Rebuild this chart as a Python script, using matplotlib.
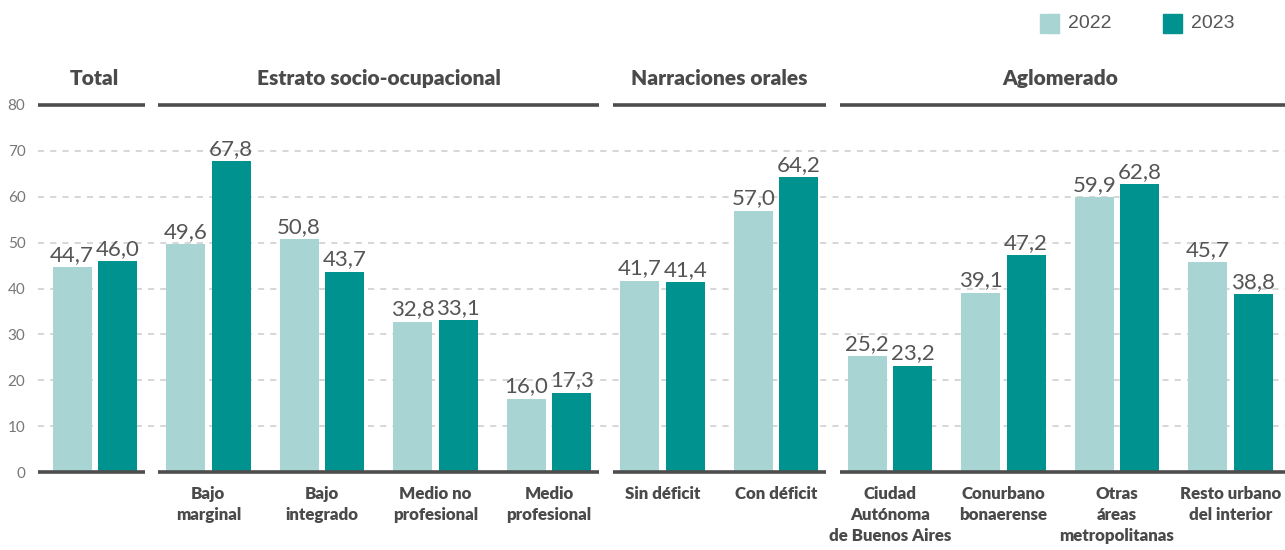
import matplotlib
matplotlib.use("Agg")
import matplotlib.pyplot as plt
from matplotlib.patches import Rectangle
import numpy as np

categories = ["", "Bajo\nmarginal", "Bajo\nintegrado", "Medio no\nprofesional", "Medio\nprofesional",
              "Sin déficit", "Con déficit", "Ciudad\nAutónoma\nde Buenos Aires", "Conurbano\nbonaerense",
              "Otras\náreas\nmetropolitanas", "Resto urbano\ndel interior"]
v2022 = [44.7, 49.6, 50.8, 32.8, 16.0, 41.7, 57.0, 25.2, 39.1, 59.9, 45.7]
v2023 = [46.0, 67.8, 43.7, 33.1, 17.3, 41.4, 64.2, 23.2, 47.2, 62.8, 38.8]
groups = ["Total", "Estrato socio-ocupacional", "Narraciones orales", "Aglomerado"]
group_ranges = [(0, 0), (1, 4), (5, 6), (7, 10)]
series = ["2022", "2023"]
yticks = [0, 10, 20, 30, 40, 50, 60, 70, 80]

C22 = "#a8d4d4"
C23 = "#00928f"
TXT = "#4a4a4a"
GRAY = "#777777"

W, H = 1285, 550
fig = plt.figure(figsize=(W / 100, H / 100), dpi=100)
ax = fig.add_axes([38 / W, (H - 472) / H, (W - 38) / W, (472 - 105) / H])
xlim = (-0.5, 10.48)
ax.set_xlim(*xlim)
ax.set_ylim(0, 80)

x = np.arange(len(categories))
bw = 0.343
off = 0.2
ax.bar(x - off, v2022, bw, color=C22, zorder=2)
ax.bar(x + off, v2023, bw, color=C23, zorder=2)

def fmt(v):
    return f"{v:.1f}".replace(".", ",")

for xi, a, b in zip(x, v2022, v2023):
    ax.text(xi - off, a + 0.5, fmt(a), ha="center", va="bottom", fontsize=16,
            color="#555555", family="Lato", fontweight="normal", zorder=3)
    ax.text(xi + off, b + 0.5, fmt(b), ha="center", va="bottom", fontsize=16,
            color="#555555", family="Lato", fontweight="normal", zorder=3)

# grid
for t in yticks[1:-1]:
    ax.axhline(t, color="#cccccc", lw=1.1, ls=(0, (4, 4)), zorder=1)

ax.set_yticks(yticks)
ax.set_yticklabels([str(t) for t in yticks], fontsize=11, color=GRAY, family="Lato")
ax.tick_params(axis="y", length=0, pad=9)
ax.set_xticks([])
for s in ax.spines.values():
    s.set_visible(False)

gap = 0.06
for i, (g, (a, b)) in enumerate(zip(groups, group_ranges)):
    left = xlim[0] if i == 0 else a - 0.5 + gap
    right = xlim[1] if i == len(groups) - 1 else b + 0.5 - gap
    for yy in (0, 80):
        ax.plot([left, right], [yy, yy], color="#4d4d4d", lw=2.6, solid_capstyle="butt",
                clip_on=False, zorder=4)
    cx = (a + b) / 2
    ax.text(cx, 85.8, g, ha="center", va="center", fontsize=15, fontweight="heavy",
            color=TXT, family="Lato")

for xi, c in zip(x, categories):
    if c:
        ax.text(xi, -3.0, c, ha="center", va="top", fontsize=12.2, fontweight="heavy",
                color=TXT, family="Lato", linespacing=1.4, clip_on=False)

# legend
for px, col, lab in [(1040, C22, series[0]), (1163, C23, series[1])]:
    fig.patches.append(Rectangle((px / W, (H - 33) / H), 19 / W, 19 / H,
                                 transform=fig.transFigure, color=col))
    fig.text((px + 28) / W, (H - 23) / H, lab, ha="left", va="center", fontsize=14,
             color="#555555", family="Liberation Sans")

fig.savefig("out.png", dpi=100)
